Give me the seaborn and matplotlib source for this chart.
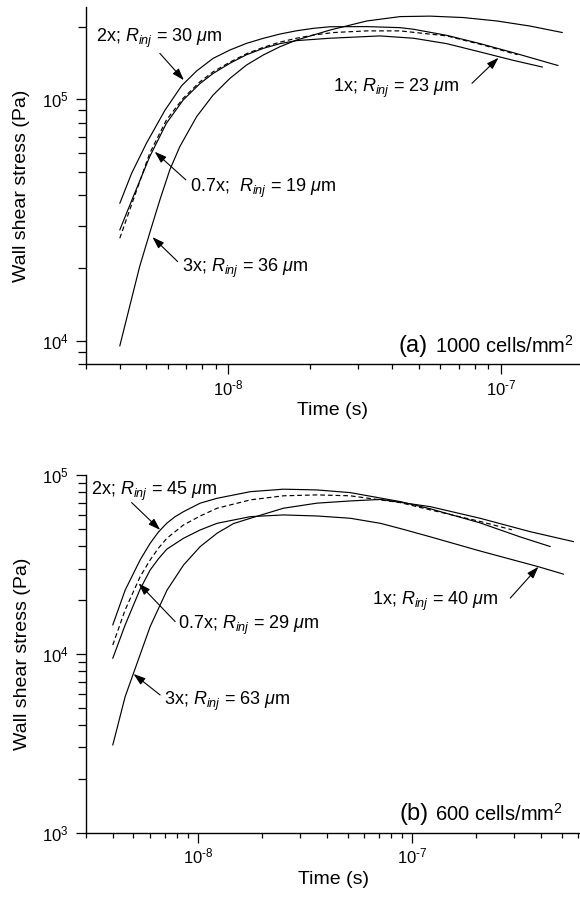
import matplotlib
matplotlib.use("Agg")
import matplotlib.pyplot as plt
import seaborn as sns
from matplotlib.ticker import FixedLocator, FixedFormatter, LogLocator, NullFormatter

# ---------------- panel (a): 1000 cells/mm^2 ----------------
a_t_2x = [4.0e-9, 4.42e-9, 5.01e-9, 5.85e-9, 6.75e-9, 7.65e-9, 8.80e-9, 1.014e-8, 1.167e-8,
          1.343e-8, 1.547e-8, 1.78e-8, 2.05e-8, 2.36e-8, 3.22e-8, 4.27e-8, 4.78e-8, 6.33e-8,
          8.4e-8, 1.11e-7, 1.62e-7]
a_tau_2x = [3.71e4, 4.94e4, 6.58e4, 8.99e4, 1.14e5, 1.31e5, 1.478e5, 1.60e5, 1.705e5,
            1.788e5, 1.863e5, 1.922e5, 1.967e5, 1.997e5, 2.0e5, 1.98e5, 1.95e5, 1.84e5,
            1.70e5, 1.56e5, 1.38e5]

a_t_1x = [4.0e-9, 4.48e-9, 5.15e-9, 5.93e-9, 6.83e-9, 7.86e-9, 8.80e-9, 1.014e-8, 1.167e-8,
          1.343e-8, 1.547e-8, 1.78e-8, 2.36e-8, 3.6e-8, 4.78e-8, 6.33e-8, 8.4e-8, 1.11e-7,
          1.42e-7]
a_tau_1x = [2.88e4, 3.95e4, 5.79e4, 7.96e4, 9.93e4, 1.16e5, 1.28e5, 1.41e5, 1.53e5,
            1.625e5, 1.70e5, 1.75e5, 1.79e5, 1.83e5, 1.79e5, 1.70e5, 1.57e5, 1.45e5,
            1.36e5]

a_t_07x = [4.0e-9, 4.48e-9, 5.15e-9, 5.93e-9, 6.83e-9, 7.86e-9, 8.80e-9, 1.014e-8, 1.167e-8,
           1.343e-8, 1.547e-8, 1.78e-8, 2.05e-8, 2.43e-8, 3.22e-8, 4.27e-8, 6.33e-8, 8.4e-8,
           1.15e-7]
a_tau_07x = [2.66e4, 3.83e4, 5.98e4, 8.21e4, 1.01e5, 1.18e5, 1.30e5, 1.425e5, 1.545e5,
             1.64e5, 1.725e5, 1.79e5, 1.845e5, 1.89e5, 1.92e5, 1.92e5, 1.83e5, 1.69e5,
             1.53e5]

a_t_3x = [4.0e-9, 4.73e-9, 5.2e-9, 5.61e-9, 6.10e-9, 6.64e-9, 7.65e-9, 8.80e-9, 1.014e-8,
          1.167e-8, 1.343e-8, 1.547e-8, 1.78e-8, 2.05e-8, 2.36e-8, 3.22e-8, 4.27e-8, 5.5e-8,
          7.29e-8, 9.67e-8, 1.28e-7, 1.68e-7]
a_tau_3x = [9.53e3, 2.03e4, 2.9e4, 3.83e4, 5.1e4, 6.37e4, 8.47e4, 1.042e5, 1.221e5,
            1.387e5, 1.525e5, 1.651e5, 1.759e5, 1.845e5, 1.935e5, 2.11e5, 2.20e5, 2.21e5,
            2.18e5, 2.11e5, 2.01e5, 1.89e5]

# ---------------- panel (b): 600 cells/mm^2 ----------------
b_t_2x = [4.0e-9, 4.57e-9, 5.37e-9, 5.98e-9, 6.54e-9, 7.16e-9, 7.83e-9, 8.57e-9, 1.025e-8,
          1.23e-8, 1.76e-8, 2.51e-8, 3.6e-8, 5.15e-8, 8.82e-8, 1.22e-7, 2.08e-7, 3.2e-7,
          4.43e-7]
b_tau_2x = [1.45e4, 2.27e4, 3.35e4, 4.15e4, 4.8e4, 5.38e4, 5.85e4, 6.24e4, 6.96e4,
            7.41e4, 8.07e4, 8.33e4, 8.25e4, 7.97e4, 7.1e4, 6.47e4, 5.4e4, 4.51e4,
            3.98e4]

b_t_07x = [4.0e-9, 4.57e-9, 5.37e-9, 5.98e-9, 6.54e-9, 7.16e-9, 8.57e-9, 1.025e-8, 1.23e-8,
           1.76e-8, 2.51e-8, 3.6e-8, 5.15e-8, 8.82e-8, 1.22e-7, 2.08e-7, 2.93e-7]
b_tau_07x = [1.12e4, 1.76e4, 2.70e4, 3.35e4, 3.90e4, 4.43e4, 5.26e4, 5.9e4, 6.52e4,
             7.26e4, 7.65e4, 7.74e4, 7.65e4, 7.01e4, 6.38e4, 5.5e4, 4.94e4]

b_t_1x = [4.0e-9, 4.57e-9, 5.37e-9, 5.98e-9, 6.54e-9, 7.16e-9, 8.57e-9, 1.025e-8, 1.23e-8,
          1.76e-8, 2.51e-8, 3.6e-8, 5.15e-8, 7.11e-8, 8.82e-8, 1.22e-7, 2.08e-7, 3.9e-7,
          5.11e-7]
b_tau_1x = [9.44e3, 1.45e4, 2.3e4, 2.94e4, 3.4e4, 3.85e4, 4.43e4, 4.93e4, 5.37e4,
            5.85e4, 5.98e4, 5.9e4, 5.73e4, 5.37e4, 5.02e4, 4.51e4, 3.76e4, 3.07e4,
            2.79e4]

b_t_3x = [4.0e-9, 4.57e-9, 5.0e-9, 5.98e-9, 7.17e-9, 8.57e-9, 1.025e-8, 1.23e-8, 1.466e-8,
          1.76e-8, 2.51e-8, 3.6e-8, 5.15e-8, 7.11e-8, 1.22e-7, 2.08e-7, 3.57e-7, 5.69e-7]
b_tau_3x = [3.09e3, 5.76e3, 7.79e3, 1.42e4, 2.27e4, 3.14e4, 3.98e4, 4.73e4, 5.35e4,
            5.73e4, 6.52e4, 6.96e4, 7.16e4, 7.3e4, 6.65e4, 5.73e4, 4.82e4, 4.24e4]

# ---------------- labels ----------------
a_labels = [r"2x; $R_{inj}$ = 30 $\mu$m", r"1x; $R_{inj}$ = 23 $\mu$m",
            r"0.7x;  $R_{inj}$ = 19 $\mu$m", r"3x; $R_{inj}$ = 36 $\mu$m"]
b_labels = [r"2x; $R_{inj}$ = 45 $\mu$m", r"1x; $R_{inj}$ = 40 $\mu$m",
            r"0.7x; $R_{inj}$ = 29 $\mu$m", r"3x; $R_{inj}$ = 63 $\mu$m"]
a_density = "1000 cells/mm$^2$"
b_density = "600 cells/mm$^2$"
x_ticks = [1e-8, 1e-7]
x_ticklabels = ["$10^{\u20108}$", "$10^{\u20107}$"]
a_y_ticks = [1e4, 1e5]
a_y_ticklabels = [r"$10^4$", r"$10^5$"]
b_y_ticks = [1e3, 1e4, 1e5]
b_y_ticklabels = [r"$10^3$", r"$10^4$", r"$10^5$"]

# label placement (data coords): text baseline-left, arrow tail, arrow tip
a_text_pos = [(3.27e-9, 1.73e5), (2.42e-8, 1.07e5), (7.23e-9, 4.15e4), (6.74e-9, 1.93e4)]
a_arrow_tail = [(5.61e-9, 1.55e5), (7.83e-8, 1.165e5), (6.99e-9, 4.64e4), (6.52e-9, 2.13e4)]
a_arrow_tip = [(6.87e-9, 1.20e5), (9.8e-8, 1.486e5), (5.37e-9, 6.07e4), (5.27e-9, 2.69e4)]

b_text_pos = [(3.16e-9, 7.69e4), (6.52e-8, 1.865e4), (8.11e-9, 1.382e4), (6.91e-9, 5.18e3)]
b_arrow_tail = [(4.9e-9, 7.01e4), (2.88e-7, 2.05e4), (7.83e-9, 1.514e4), (6.66e-9, 5.89e3)]
b_arrow_tip = [(6.66e-9, 4.93e4), (3.9e-7, 3.07e4), (5.28e-9, 2.48e4), (5.0e-9, 7.72e3)]

sns.set_theme(style="ticks")
plt.rcParams.update({
    "font.family": ["Liberation Sans", "DejaVu Sans"],
    "mathtext.fontset": "custom",
    "mathtext.rm": "Liberation Sans",
    "mathtext.it": "Liberation Sans:italic",
    "mathtext.bf": "Liberation Sans:bold",
    "axes.linewidth": 1.0,
    "axes.edgecolor": "black",
    "xtick.color": "black",
    "ytick.color": "black",
    "text.color": "black",
    "axes.labelcolor": "black",
})

fig = plt.figure(figsize=(5.8, 9.02), dpi=100)
ax_a = fig.add_axes([0.1478, 0.5961, 0.8522, 0.3961])
ax_b = fig.add_axes([0.1483, 0.0768, 0.8517, 0.3966])

dash = (0, (4, 2.5))
panels = [
    dict(ax=ax_a,
         curves=[(a_t_2x, a_tau_2x, "-"), (a_t_1x, a_tau_1x, "-"),
                 (a_t_07x, a_tau_07x, dash), (a_t_3x, a_tau_3x, "-")],
         xlim=(3e-9, 1.95e-7), ylim=(8e3, 2.41e5),
         yticks=a_y_ticks, yticklabels=a_y_ticklabels,
         labels=a_labels, text_pos=a_text_pos, tails=a_arrow_tail, tips=a_arrow_tip,
         tag="(a)", density=a_density, tag_pos=(0.988, 0.031)),
    dict(ax=ax_b,
         curves=[(b_t_2x, b_tau_2x, "-"), (b_t_1x, b_tau_1x, "-"),
                 (b_t_07x, b_tau_07x, dash), (b_t_3x, b_tau_3x, "-")],
         xlim=(3e-9, 6.1e-7), ylim=(1e3, 1e5),
         yticks=b_y_ticks, yticklabels=b_y_ticklabels,
         labels=b_labels, text_pos=b_text_pos, tails=b_arrow_tail, tips=b_arrow_tip,
         tag="(b)", density=b_density, tag_pos=(0.966, 0.033)),
]

for p in panels:
    ax = p["ax"]
    for t, tau, ls in p["curves"]:
        sns.lineplot(x=t, y=tau, ax=ax, color="black", lw=0.85, linestyle=ls,
                     estimator=None, sort=False)
    ax.set_xscale("log")
    ax.set_yscale("log")
    ax.set_xlim(*p["xlim"])
    ax.set_ylim(*p["ylim"])

    ax.xaxis.set_major_locator(FixedLocator(x_ticks))
    ax.xaxis.set_major_formatter(FixedFormatter(x_ticklabels))
    ax.xaxis.set_minor_locator(LogLocator(base=10, subs=range(2, 10), numticks=20))
    ax.xaxis.set_minor_formatter(NullFormatter())
    ax.yaxis.set_major_locator(FixedLocator(p["yticks"]))
    ax.yaxis.set_major_formatter(FixedFormatter(p["yticklabels"]))
    ax.yaxis.set_minor_locator(LogLocator(base=10, subs=range(2, 10), numticks=20))
    ax.yaxis.set_minor_formatter(NullFormatter())

    ax.tick_params(axis="x", which="major", direction="out", length=7, width=0.9,
                   labelsize=12, pad=3)
    ax.tick_params(axis="x", which="minor", direction="out", length=3.5, width=0.9)
    ax.tick_params(axis="y", which="major", direction="out", length=7.5, width=0.9,
                   labelsize=12, pad=5)
    ax.tick_params(axis="y", which="minor", direction="out", length=6, width=0.9)

    sns.despine(ax=ax)
    ax.set_xlabel("Time (s)", fontsize=14, labelpad=3)
    ax.set_ylabel("Wall shear stress (Pa)", fontsize=14, labelpad=8)

    for lab, tp, tail, tip in zip(p["labels"], p["text_pos"], p["tails"], p["tips"]):
        ax.text(tp[0], tp[1], lab, fontsize=13, ha="left", va="baseline")
        ax.annotate("", xy=tip, xytext=tail,
                    arrowprops=dict(arrowstyle="-|>,head_length=0.6,head_width=0.2",
                                    color="black", lw=0.8, shrinkA=0, shrinkB=0))

    dens = ax.text(p["tag_pos"][0], p["tag_pos"][1], p["density"], transform=ax.transAxes,
                   fontsize=14.5, ha="right", va="baseline")
    ax.annotate(p["tag"], xy=(0, 0), xycoords=dens, xytext=(-5, 0),
                textcoords="offset points", ha="right", va="bottom", fontsize=17)

fig.savefig("out.png", dpi=100)
